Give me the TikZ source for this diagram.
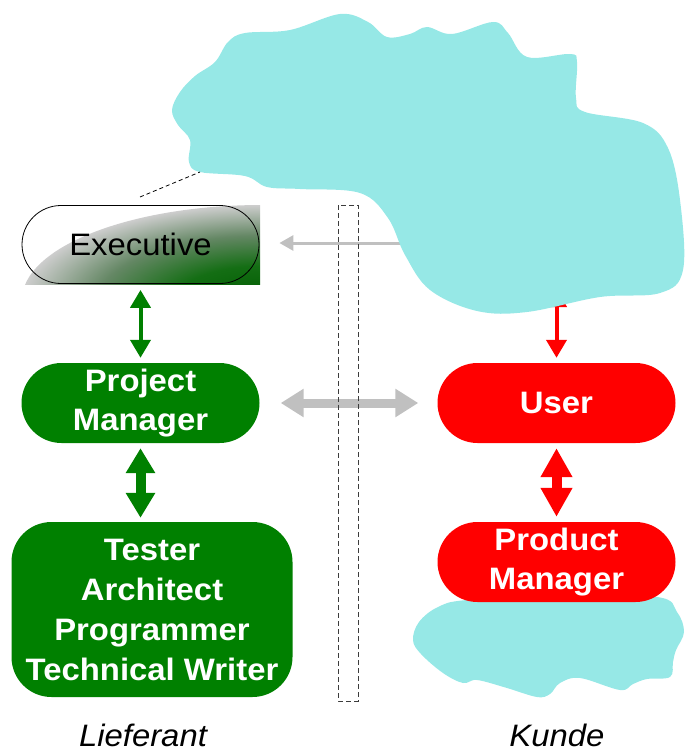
\documentclass[tikz,border=0pt]{standalone}
\usepackage{fontspec}
\setmainfont{Liberation Sans}[FakeStretch=1.06]
\usetikzlibrary{shapes.misc,arrows.meta}

\definecolor{cloudcyan}{RGB}{150,232,230}
\definecolor{roleg}{RGB}{0,128,0}
\definecolor{roler}{RGB}{255,0,0}
\definecolor{linkgray}{RGB}{192,192,192}
\definecolor{deepg}{RGB}{0,92,0}
\definecolor{midg}{RGB}{20,110,20}
\definecolor{haze}{RGB}{100,135,100}
\definecolor{paleedge}{RGB}{205,205,205}
\definecolor{fencegray}{RGB}{60,60,60}

% glow behind the executive: dark green core fading to pale grey
\pgfdeclareradialshading{execglow}{\pgfpoint{0bp}{0bp}}{%
  color(0bp)=(deepg); color(9bp)=(midg); color(17bp)=(haze);
  color(25bp)=(paleedge); color(50bp)=(paleedge)}

\tikzset{
  rolebox/.style={rounded rectangle, minimum width=238pt, minimum height=80pt,
    inner sep=0pt, align=center, text=white,
    font=\fontsize{31}{39}\selectfont\bfseries},
  greenrole/.style={rolebox, fill=roleg},
  redrole/.style={rolebox, fill=roler},
  teambox/.style={rectangle, rounded corners=40pt, fill=roleg, minimum width=281pt,
    minimum height=175pt, inner sep=0pt, align=center, text=white,
    font=\fontsize{31}{40}\selectfont\bfseries},
  side/.style={font=\fontsize{31}{38}\selectfont\itshape, anchor=base, inner sep=0pt},
  cloud/.style={fill=cloudcyan},
  thinlink/.style={line width=4pt,
    {Triangle[width=20pt,length=18pt]}-{Triangle[width=20pt,length=18pt]}},
  fatgreen/.style={roleg, line width=10pt,
    {Triangle[width=28pt,length=25pt]}-{Triangle[width=28pt,length=25pt]}},
  fatred/.style={roler, line width=10pt,
    {Triangle[width=30pt,length=29pt]}-{Triangle[width=30pt,length=29pt]}},
  fatgray/.style={linkgray, line width=9pt,
    {Triangle[width=27pt,length=23pt]}-{Triangle[width=27pt,length=23pt]}},
}

\begin{document}
\begin{tikzpicture}[x=1pt,y=-1pt]
\useasboundingbox (0,0) rectangle (687,752);

% lower cloud, behind the product manager
\fill[cloud] plot[smooth cycle, tension=0.6] coordinates {
  (413,640) (419,622) (438,607) (467,600) (560,596) (657,597) (677,612)
  (684,632) (676,650) (673,662) (670,677) (647,679) (633,684) (620,690)
  (580,678) (560,683) (550,694) (537,697) (507,688) (477,680) (463,683)
  (443,673) (421,654)};

% executive box: shaded background
\begin{scope}
  \clip (22,205) rectangle (260,284);
  \fill[white] (22,205) rectangle (260,284);
  \shade[shading=execglow] (262,300) ellipse [x radius=240pt, y radius=95pt];
\end{scope}

% roles on the supplier side
\node[rolebox, draw=black, line width=0.8pt, text=black,
      font=\fontsize{31}{39}\selectfont, minimum width=237pt, minimum height=78pt]
      (exec) at (140.5,244.5) {Executive};
\node[greenrole] (pm) at (140.5,403) {Project\\Manager};
\node[teambox] (team) at (152,609.5) {Tester\\Architect\\Programmer\\Technical Writer};

% roles on the customer side
\node[redrole] (user) at (556.5,403) {User};
\node[redrole] (prod) at (556.5,562) {Product\\Manager};

% free ends hidden under the upper cloud
\coordinate (cloudL) at (430,243);
\coordinate (cloudU) at (556.5,289);

% connectors
\draw[linkgray, line width=3pt, -{Triangle[width=15pt,length=14pt]}, shorten >=20pt]
  (cloudL) -- (exec.east |- cloudL);
\draw[roler, thinlink, shorten >=5pt] (cloudU) -- (user.north);
\draw[roleg, thinlink, shorten <=6pt, shorten >=5pt] (exec.south) -- (pm.north);
\draw[fatgreen, shorten <=5pt, shorten >=4pt] (pm.south) -- (pm.south |- team.north);
\draw[fatred, shorten <=5pt, shorten >=5pt] (user.south) -- (prod.north);
\draw[fatgray, shorten <=21pt, shorten >=19pt] (pm.east) -- (user.west);

% upper cloud
\fill[cloud] plot[smooth cycle, tension=0.6] coordinates {
  (172,110) (180,92) (195,76) (215,62) (228,42) (245,33) (290,30) (340,14)
  (368,22) (387,37) (410,34) (427,27) (452,34) (493,22) (508,33) (527,57)
  (570,54) (577,62) (576,98) (585,112) (643,123) (668,148) (680,200)
  (683,270) (660,293) (600,297) (527,312) (477,311) (430,290) (405,255)
  (388,218) (360,193) (300,189) (267,187) (245,176) (200,172) (189,162)
  (190,140) (178,125)};

% dashed lead from the executive towards the cloud
\coordinate (leadA) at (140,197);
\coordinate (leadB) at (200,172);
\draw[dashed, dash pattern=on 4pt off 3pt, line width=0.8pt] (leadA) -- (leadB);

% boundary between supplier and customer
\draw[fencegray, dash pattern=on 5pt off 3pt, line width=0.9pt] (338,205) rectangle (358,701);

% side labels
\node[side] (lief) at (143,746) {Lieferant};
\node[side] (kunde) at (557,746) {Kunde};
\end{tikzpicture}
\end{document}
